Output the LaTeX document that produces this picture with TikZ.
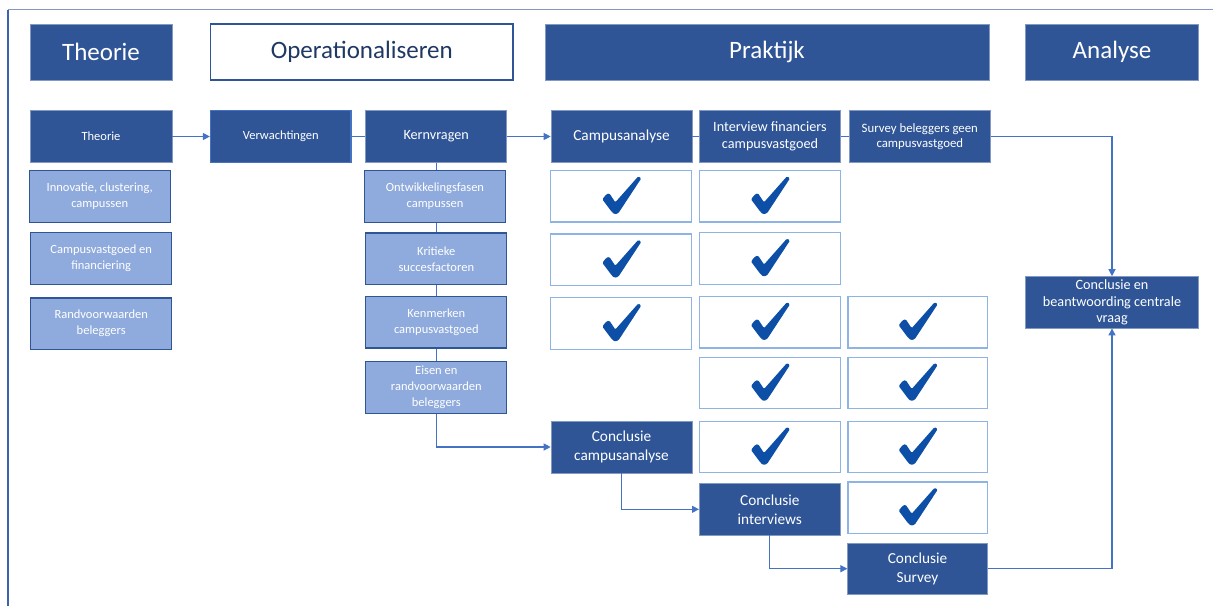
\documentclass[tikz,border=0pt]{standalone}
\usepackage{fontspec}
\setmainfont{Carlito}
\usetikzlibrary{arrows.meta,calc}
\definecolor{dkblue}{HTML}{2F5597}
\definecolor{ltblue}{HTML}{8FAADC}
\definecolor{lnblue}{HTML}{4472C4}
\definecolor{chkbd}{HTML}{8DB4E2}
\definecolor{chkcol}{HTML}{0D4FA6}
\definecolor{navy}{HTML}{1F3864}
\definecolor{frtop}{HTML}{8497C4}
\definecolor{frleft}{HTML}{3D63AE}
\tikzset{
  base/.style={rectangle, inner sep=0pt, align=center, minimum height=51.6},
  hdr/.style={base, fill=dkblue, draw=dkblue!60!white, line width=0.6pt, text=white, minimum height=56, font=\fontsize{25}{30}\selectfont},
  hdrw/.style={base, fill=white, draw=dkblue, line width=1.2pt, text=navy, minimum height=56, font=\fontsize{25}{30}\selectfont},
  dk/.style={base, fill=dkblue, draw=dkblue!60!white, line width=0.6pt, text=white, minimum width=141},
  lt/.style={base, fill=ltblue, draw=dkblue, line width=1.2pt, text=white, minimum width=141, font=\fontsize{12.5}{16}\selectfont},
  chkbox/.style={base, fill=white, draw=chkbd, line width=1.3pt, minimum width=141,
    path picture={\fill[chkcol, rounded corners=1.2pt]
      ([shift={(-19,3)}]path picture bounding box.center) --
      ([shift={(-15,-2)}]path picture bounding box.center) --
      ([shift={(-12,-3)}]path picture bounding box.center) --
      ([shift={(-6,6)}]path picture bounding box.center) --
      ([shift={(17,-20)}]path picture bounding box.center) --
      ([shift={(20,-18)}]path picture bounding box.center) --
      ([shift={(-3,17)}]path picture bounding box.center) --
      ([shift={(-7,18)}]path picture bounding box.center) --
      ([shift={(-10,15)}]path picture bounding box.center) -- cycle;}},
  conn/.style={draw=lnblue, line width=1.1pt},
  arr/.style={conn, -{Triangle[length=7pt,width=7pt]}},
  f125/.style={font=\fontsize{12.5}{16}\selectfont},
  f13/.style={font=\fontsize{12.8}{15}\selectfont},
  f14/.style={font=\fontsize{14.2}{16.6}\selectfont},
  f15/.style={font=\fontsize{15.3}{19}\selectfont},
}
\begin{document}
\begin{tikzpicture}[x=1pt,y=-1pt]
\useasboundingbox (0,0) rectangle (1213,606);
% frame
\coordinate (fc) at (8,9.5);
\coordinate (ftr) at (1213,9.5);
\coordinate (fbl) at (8,606);
\draw[frtop, line width=1pt] (fc) -- (ftr);
\draw[frleft, line width=1.2pt] (fc) -- (fbl);

% headers
\node[hdr, minimum width=142] (hT) at (101,52) {Theorie};
\node[hdrw, minimum width=302.5] (hO) at (361.75,52) {Operationaliseren};
\node[hdr, minimum width=444] (hP) at (767,52) {Praktijk};
\node[hdr, minimum width=172.6] (hA) at (1112,52) {Analyse};

% row 2
\node[dk, f125, minimum width=142] (t1) at (101,136.5) {Theorie};
\node[dk, f125, draw=lnblue, line width=1.2pt, minimum width=140.5] (verw) at (280.75,136.5) {Verwachtingen};
\node[dk, f14] (kern) at (436.2,136.5) {Kernvragen};
\node[dk, f15] (camp) at (621.5,136.5) {Campusanalyse};
\node[dk, f14] (intv) at (770,136.5) {Interview financiers\\campusvastgoed};
\node[dk, f13] (surv) at (919.8,136.5) {Survey beleggers geen\\campusvastgoed};

% left light boxes
\node[lt] (inno) at (99.7,196.3) {Innovatie, clustering,\\campussen};
\node[lt] (cvf) at (101.2,258.5) {Campusvastgoed en\\financiering};
\node[lt] (rvb) at (101.2,323.7) {Randvoorwaarden\\beleggers};

% kern light boxes
\node[lt] (ontw) at (435,196.3) {Ontwikkelingsfasen\\campussen};
\node[lt] (krit) at (436.3,258.7) {Kritieke\\succesfactoren};
\node[lt] (kenm) at (436.3,322.2) {Kenmerken\\campusvastgoed};
\node[lt] (eisen) at (436.3,387.5) {Eisen en\\randvoorwaarden\\beleggers};

% check boxes
\node[chkbox] (a1) at (621.3,196.3) {};
\node[chkbox] (a2) at (621.3,259.8) {};
\node[chkbox] (a3) at (621.3,323.5) {};
\node[chkbox] (b1) at (770,196.3) {};
\node[chkbox] (b2) at (770,258.5) {};
\node[chkbox] (b3) at (770,322.2) {};
\node[chkbox] (b4) at (770,383) {};
\node[chkbox] (b5) at (770,447) {};
\node[chkbox, minimum width=139.3] (c3b) at (917.7,322.2) {};
\node[chkbox, minimum width=139.3] (c4b) at (917.7,383) {};
\node[chkbox, minimum width=139.3] (c5b) at (917.7,447) {};
\node[chkbox, minimum width=139.3] (c6b) at (917.7,507.7) {};

% conclusions
\node[dk, f15] (c1) at (621.5,447) {Conclusie\\campusanalyse};
\node[dk, f15] (c2) at (769.8,509.3) {Conclusie\\interviews};
\node[dk, f15, minimum width=139.6] (c3) at (917.5,568.7) {Conclusie\\Survey};
\node[dk, f14, minimum width=172.6] (cf) at (1112,302.3) {Conclusie en\\beantwoording centrale\\vraag};

% connectors
\draw[arr] (t1.east) -- (verw.west);
\draw[conn] (verw.east) -- (kern.west);
\draw[arr] (kern.east) -- (camp.west);
\draw[conn] (camp.east) -- (intv.west);
\draw[conn] (intv.east) -- (surv.west);
\draw[arr] (surv.east) -| (cf.north);
\draw[arr] (c3.east) -| (cf.south);
\draw[conn] (kern.south) -- (kern.south |- ontw.north);
\draw[conn] (kern.south |- ontw.south) -- (kern.south |- krit.north);
\draw[conn] (kern.south |- krit.south) -- (kern.south |- kenm.north);
\draw[conn] (kern.south |- kenm.south) -- (kern.south |- eisen.north);
\draw[arr] (kern.south |- eisen.south) |- (c1.west);
\draw[arr] (c1.south) |- (c2.west);
\draw[arr] (c2.south) |- (c3.west);
\end{tikzpicture}
\end{document}
